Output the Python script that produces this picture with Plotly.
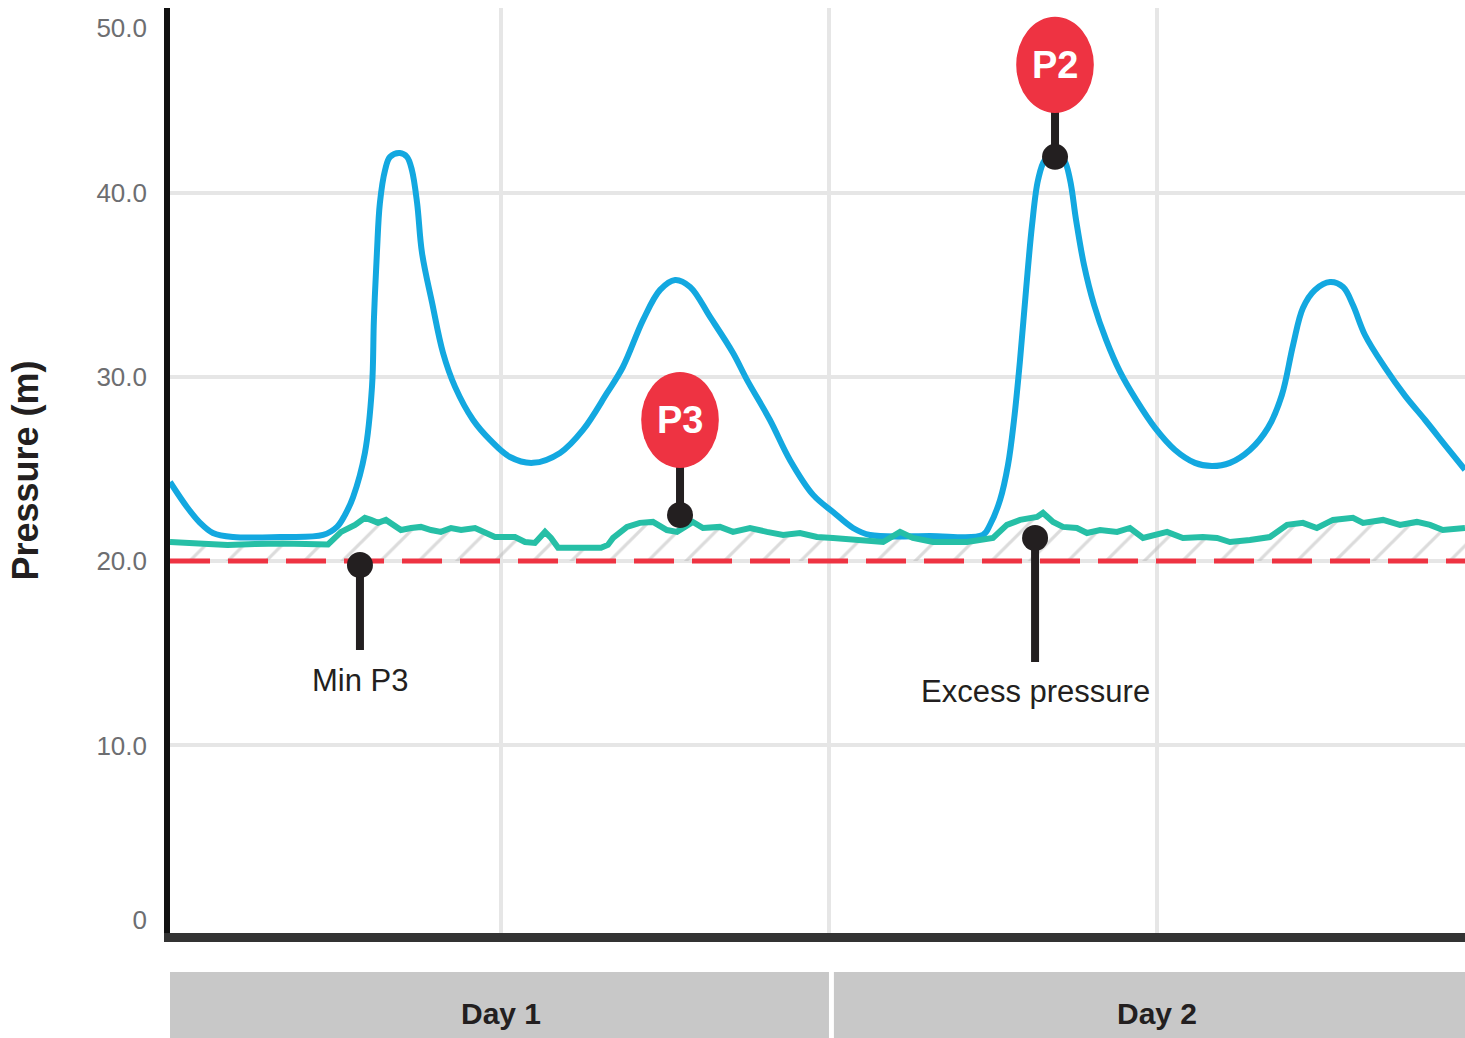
import plotly.graph_objects as go

# ---------------- data ----------------
# time in hours (0-48, two days), pressure in metres
p2_hours = [-0.11, 0.51, 0.99, 1.46, 2.20, 3.91, 5.49, 6.00, 6.29, 6.59, 7.02, 7.28, 7.35, 7.46,
            7.57, 7.76, 7.94, 8.30, 8.56, 8.74, 8.93, 9.11, 9.48, 9.88, 10.32, 10.98, 11.60,
            12.33, 13.17, 14.16, 15.00, 15.88, 16.46, 17.20, 17.82, 18.37, 18.92, 19.65, 20.49,
            21.00, 21.84, 22.57, 23.42, 24.15, 24.88, 25.50, 27.70, 29.63, 29.89, 30.26, 30.55,
            30.77, 30.99, 31.21, 31.43, 31.65, 31.90, 32.27, 32.60, 32.82, 33.04, 33.33, 33.70,
            34.14, 34.65, 35.24, 35.93, 36.66, 37.39, 38.01, 38.67, 39.40, 40.06, 40.57, 40.98,
            41.34, 41.78, 42.33, 42.81, 43.17, 43.61, 44.35, 45.08, 45.81, 46.54, 47.27]
p2_pressure = [24.29, 22.93, 22.07, 21.52, 21.30, 21.30, 21.41, 21.85, 22.50, 23.48, 25.87, 29.46,
               33.10, 36.74, 39.46, 41.25, 41.96, 42.17, 41.96, 41.25, 39.46, 36.74, 34.02, 31.30,
               29.46, 27.66, 26.58, 25.65, 25.33, 25.87, 27.12, 29.13, 30.54, 33.10, 34.73, 35.27,
               34.89, 33.26, 31.30, 29.84, 27.66, 25.49, 23.59, 22.66, 21.79, 21.41, 21.36, 21.41,
               21.96, 23.32, 25.22, 27.66, 30.92, 34.73, 38.26, 40.71, 41.79, 42.12, 41.79, 40.71,
               38.53, 36.09, 33.91, 32.01, 30.27, 28.75, 27.23, 26.03, 25.33, 25.16, 25.33, 26.03,
               27.23, 29.02, 31.74, 33.75, 34.73, 35.16, 34.89, 33.91, 32.28, 30.49, 28.97, 27.66,
               26.30, 24.95]

p3_hours = [-0.11, 1.0, 2.0, 3.0, 4.0, 5.67, 6.15, 6.66, 7.02, 7.24, 7.50, 7.79, 8.12, 8.34, 8.71,
            9.07, 9.44, 9.80, 10.17, 10.54, 11.05, 11.41, 11.78, 12.15, 12.51, 12.88, 13.24,
            13.61, 13.83, 14.09, 15.66, 15.91, 16.10, 16.61, 17.08, 17.56, 18.07, 18.44, 19.02,
            19.39, 20.01, 20.49, 21.11, 21.73, 22.32, 22.94, 23.56, 24.15, 24.88, 25.98, 26.60,
            27.07, 27.81, 29.05, 30.00, 30.51, 30.99, 31.61, 31.83, 32.20, 32.56, 33.07, 33.44,
            33.92, 34.54, 35.01, 35.49, 36.00, 36.37, 36.95, 37.68, 38.20, 38.67, 39.40, 40.13,
            40.76, 41.34, 41.85, 42.44, 43.17, 43.54, 44.27, 44.89, 45.51, 45.99, 46.46, 46.98,
            47.27]
p3_pressure = [21.03, 20.95, 20.87, 20.92, 20.95, 20.90, 21.58, 21.96, 22.34, 22.23, 22.07, 22.23,
               21.85, 21.68, 21.79, 21.85, 21.68, 21.58, 21.79, 21.68, 21.79, 21.58, 21.30, 21.30,
               21.30, 21.03, 20.98, 21.58, 21.25, 20.71, 20.71, 20.87, 21.25, 21.85, 22.07, 22.12,
               21.68, 21.58, 22.12, 21.79, 21.85, 21.58, 21.79, 21.58, 21.41, 21.52, 21.30, 21.25,
               21.14, 21.03, 21.58, 21.25, 21.03, 21.03, 21.25, 21.96, 22.23, 22.39, 22.61, 22.12,
               21.85, 21.79, 21.52, 21.68, 21.58, 21.79, 21.25, 21.41, 21.58, 21.25, 21.30, 21.25,
               21.03, 21.14, 21.30, 21.96, 22.07, 21.79, 22.23, 22.34, 22.07, 22.23, 21.96, 22.12,
               21.96, 21.68, 21.79, 21.79]

min_p3 = 20.0
x_span = [-0.11, 47.27]

day_labels = ["Day 1", "Day 2"]
day_starts = [-0.3, 24.18]
day_ends = [24.0, 47.4]
day_centres = [12, 36]

y_tick_positions = [0.49, 9.95, 20.0, 30.0, 40.0, 48.97]
y_tick_labels = ["0", "10.0", "20.0", "30.0", "40.0", "50.0"]
y_grid = [10, 20, 30, 40, 50]
x_grid = [12, 24, 36]

# callouts: (label, point x, point y, badge centre y)
badges = [("P3", 18.55, 22.5, 27.66), ("P2", 32.27, 41.96, 46.96)]
# (label, point x, point y, stem end y, text y)
notes = [("Min P3", 6.84, 19.78, 15.16, 13.48), ("Excess pressure", 31.54, 21.25, 14.51, 12.88)]

# ---------------- styling ----------------
BLUE = "#13A8E0"
GREEN = "#26BFA6"
RED = "#EE3342"
INK = "#231F20"
FONT = "Liberation Sans, Arial, sans-serif"

fig = go.Figure()

# hatched excess-pressure area between Min P3 line and P3 trace
fig.add_trace(go.Scatter(x=x_span, y=[min_p3, min_p3], mode="lines",
                         line=dict(width=0, color="rgba(0,0,0,0)"), hoverinfo="skip",
                         showlegend=False))
fig.add_trace(go.Scatter(x=p3_hours, y=p3_pressure, mode="lines", fill="tonexty",
                         fillcolor="rgba(255,255,255,0)",
                         fillpattern=dict(shape="/", size=27, solidity=0.12,
                                          fgcolor="#B8B8B8", bgcolor="rgba(255,255,255,0)"),
                         line=dict(width=0, color="rgba(0,0,0,0)"), hoverinfo="skip",
                         showlegend=False))

# Min P3 dashed line
fig.add_trace(go.Scatter(x=x_span, y=[min_p3, min_p3], mode="lines", name="Min P3",
                         line=dict(color=RED, width=5, dash="40px,18px"), showlegend=False))

# P2 trace
fig.add_trace(go.Scatter(x=p2_hours, y=p2_pressure, mode="lines", name="P2",
                         line=dict(color=BLUE, width=6, shape="spline", smoothing=1.0),
                         showlegend=False))
# P3 trace
fig.add_trace(go.Scatter(x=p3_hours, y=p3_pressure, mode="lines", name="P3",
                         line=dict(color=GREEN, width=6), showlegend=False))

shapes = []
annotations = []

# badge callouts (red circle with label, stem, black dot)
for label, bx, by, cy in badges:
    circ_w = 1.42
    circ_h = 2.61
    fig.add_trace(go.Scatter(x=[bx, bx], y=[by, cy], mode="lines",
                             line=dict(color=INK, width=8), showlegend=False, hoverinfo="skip"))
    fig.add_trace(go.Scatter(x=[bx], y=[by], mode="markers",
                             marker=dict(color=INK, size=26), showlegend=False, hoverinfo="skip"))
    shapes.append(dict(type="circle", xref="x", yref="y", x0=bx - circ_w, x1=bx + circ_w,
                       y0=cy - circ_h, y1=cy + circ_h, fillcolor=RED, line=dict(width=0),
                       layer="above"))
    annotations.append(dict(x=bx, y=cy, xref="x", yref="y", text="<b>%s</b>" % label,
                            xanchor="center", yanchor="middle", showarrow=False,
                            font=dict(family=FONT, size=38, color="white")))

# text callouts (dot, stem, label below)
for label, nx, ny, sy, ty in notes:
    fig.add_trace(go.Scatter(x=[nx, nx], y=[ny, sy], mode="lines",
                             line=dict(color=INK, width=8), showlegend=False, hoverinfo="skip"))
    fig.add_trace(go.Scatter(x=[nx], y=[ny], mode="markers",
                             marker=dict(color=INK, size=26), showlegend=False, hoverinfo="skip"))
    annotations.append(dict(x=nx, y=ty, xref="x", yref="y", text=label, showarrow=False,
                            xanchor="center", yanchor="middle",
                            font=dict(family=FONT, size=31, color=INK)))

# day bands below the x axis
for lab, x0, x1, xc in zip(day_labels, day_starts, day_ends, day_centres):
    shapes.append(dict(type="rect", xref="x", yref="paper", x0=x0, x1=x1,
                       y0=-0.1136, y1=-0.0422, fillcolor="#C8C8C8", line=dict(width=0)))
    annotations.append(dict(x=xc, y=-0.0866, xref="x", yref="paper", text="<b>%s</b>" % lab,
                            xanchor="center", yanchor="middle", showarrow=False,
                            font=dict(family=FONT, size=30, color=INK)))

fig.update_layout(
    width=1465, height=1038,
    margin=dict(l=170, r=0, t=8, b=105),
    paper_bgcolor="white", plot_bgcolor="white",
    font=dict(family=FONT, color=INK),
    shapes=shapes, annotations=annotations,
    showlegend=False,
    xaxis=dict(range=x_span, tickvals=x_grid, showticklabels=False, showgrid=True,
               gridcolor="#E6E6E6", gridwidth=4, zeroline=False, showline=True,
               linecolor="#333333", linewidth=9, ticks=""),
    yaxis=dict(range=[-0.22, 50.05], tickvals=y_grid, showticklabels=False, showgrid=True,
               gridcolor="#E6E6E6", gridwidth=4, zeroline=False, showline=True,
               linecolor="#111111", linewidth=6, ticks=""),
    yaxis2=dict(range=[-0.22, 50.05], overlaying="y", side="left", tickvals=y_tick_positions,
                ticktext=y_tick_labels, showgrid=False, zeroline=False, showline=False,
                ticks="", ticklabelstandoff=22,
                tickfont=dict(family=FONT, size=26, color="#6D6E71"),
                title=dict(text="<b>Pressure (m)</b>", standoff=46,
                           font=dict(family=FONT, size=36, color=INK))),
)
# attach an invisible trace so yaxis2 is drawn
fig.add_trace(go.Scatter(x=[x_span[0]], y=[0], yaxis="y2", mode="markers",
                         marker=dict(opacity=0), showlegend=False, hoverinfo="skip"))

fig.write_html("out.html",
               config={"displayModeBar": False},
               post_script="document.body.style.margin='0px';"
                           "document.body.style.overflow='hidden';")
